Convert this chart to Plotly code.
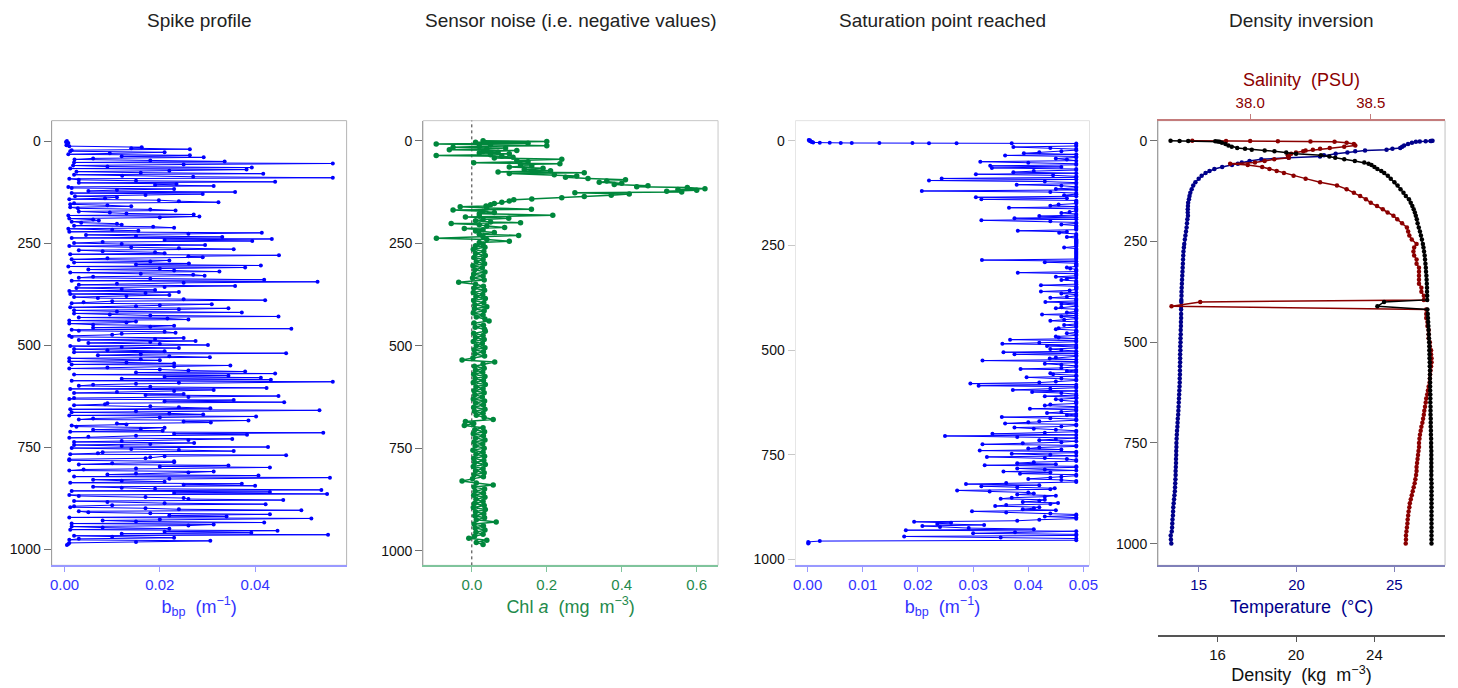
import plotly.graph_objects as go

# ---------------- Panel 1: spike profile (bbp) ----------------
depth_spike = [
    0, 5, 10, 15, 20, 25, 30, 35, 40, 45,
    50, 55, 60, 65, 70, 75, 80, 85, 90, 95,
    100, 105, 110, 115, 120, 125, 130, 135, 140, 145,
    150, 155, 160, 165, 170, 175, 180, 185, 190, 195,
    200, 205, 210, 215, 220, 225, 230, 235, 240, 245,
    250, 255, 260, 265, 270, 275, 280, 285, 290, 295,
    300, 305, 310, 315, 320, 325, 330, 335, 340, 345,
    350, 355, 360, 365, 370, 375, 380, 385, 390, 395,
    400, 405, 410, 415, 420, 425, 430, 435, 440, 445,
    450, 455, 460, 465, 470, 475, 480, 485, 490, 495,
    500, 505, 510, 515, 520, 525, 530, 535, 540, 545,
    550, 555, 560, 565, 570, 575, 580, 585, 590, 595,
    600, 605, 610, 615, 620, 625, 630, 635, 640, 645,
    650, 655, 660, 665, 670, 675, 680, 685, 690, 695,
    700, 705, 710, 715, 720, 725, 730, 735, 740, 745,
    750, 755, 760, 765, 770, 775, 780, 785, 790, 795,
    800, 805, 810, 815, 820, 825, 830, 835, 840, 845,
    850, 855, 860, 865, 870, 875, 880, 885, 890, 895,
    900, 905, 910, 915, 920, 925, 930, 935, 940, 945,
    950, 955, 960, 965, 970, 975, 980, 985, 990]
bbp_spike = [
    0.0005, 0.0008, 0.0004, 0.0162, 0.0263, 0.0012, 0.0095, 0.0263, 0.0292, 0.0021,
    0.0336, 0.0563, 0.0018, 0.0393, 0.0382, 0.0025, 0.0417, 0.0121, 0.0563, 0.0030,
    0.0442, 0.0235, 0.0313, 0.0015, 0.0110, 0.0358, 0.0290, 0.0022, 0.0085, 0.0198,
    0.0323, 0.0012, 0.0140, 0.0028, 0.0233, 0.0095, 0.0271, 0.0283, 0.0010, 0.0072,
    0.0035, 0.0120, 0.0186, 0.0008, 0.0155, 0.0414, 0.0045, 0.0331, 0.0435, 0.0394,
    0.0020, 0.0295, 0.0140, 0.0355, 0.0080, 0.0210, 0.0450, 0.0290, 0.0015, 0.0180,
    0.0261, 0.0412, 0.0379, 0.0050, 0.0325, 0.0160, 0.0294, 0.0030, 0.0419, 0.0531,
    0.0110, 0.0358, 0.0025, 0.0190, 0.0240, 0.0012, 0.0130, 0.0070, 0.0421, 0.0040,
    0.0309, 0.0150, 0.0344, 0.0020, 0.0372, 0.0095, 0.0449, 0.0216, 0.0010, 0.0130,
    0.0060, 0.0180, 0.0476, 0.0030, 0.0233, 0.0100, 0.0015, 0.0190, 0.0275, 0.0050,
    0.0301, 0.0120, 0.0020, 0.0210, 0.0465, 0.0070, 0.0305, 0.0160, 0.0010, 0.0230,
    0.0348, 0.0090, 0.0200, 0.0379, 0.0442, 0.0344, 0.0412, 0.0433, 0.0563, 0.0150,
    0.0030, 0.0424, 0.0313, 0.0110, 0.0250, 0.0449, 0.0020, 0.0355, 0.0461, 0.0085,
    0.0180, 0.0306, 0.0535, 0.0015, 0.0291, 0.0402, 0.0060, 0.0386, 0.0307, 0.0130,
    0.0025, 0.0160, 0.0206, 0.0543, 0.0383, 0.0050, 0.0352, 0.0120, 0.0272, 0.0020,
    0.0427, 0.0140, 0.0355, 0.0070, 0.0465, 0.0180, 0.0010, 0.0230, 0.0100, 0.0344,
    0.0431, 0.0040, 0.0313, 0.0150, 0.0407, 0.0557, 0.0060, 0.0210, 0.0372, 0.0400,
    0.0120, 0.0539, 0.0431, 0.0551, 0.0030, 0.0250, 0.0459, 0.0090, 0.0422, 0.0020,
    0.0170, 0.0497, 0.0050, 0.0431, 0.0340, 0.0518, 0.0080, 0.0419, 0.0313, 0.0015,
    0.0220, 0.0447, 0.0392, 0.0553, 0.0100, 0.0030, 0.0306, 0.0010, 0.0005]
# samples between the ones above
depth_spike_b = [
    2.5, 7.5, 12.5, 17.5, 22.5, 27.5, 32.5, 37.5, 42.5, 47.5,
    52.5, 57.5, 62.5, 67.5, 72.5, 77.5, 82.5, 87.5, 92.5, 97.5,
    102.5, 107.5, 112.5, 117.5, 122.5, 127.5, 132.5, 137.5, 142.5, 147.5,
    152.5, 157.5, 162.5, 167.5, 172.5, 177.5, 182.5, 187.5, 192.5, 197.5,
    202.5, 207.5, 212.5, 217.5, 222.5, 227.5, 232.5, 237.5, 242.5, 247.5,
    252.5, 257.5, 262.5, 267.5, 272.5, 277.5, 282.5, 287.5, 292.5, 297.5,
    302.5, 307.5, 312.5, 317.5, 322.5, 327.5, 332.5, 337.5, 342.5, 347.5,
    352.5, 357.5, 362.5, 367.5, 372.5, 377.5, 382.5, 387.5, 392.5, 397.5,
    402.5, 407.5, 412.5, 417.5, 422.5, 427.5, 432.5, 437.5, 442.5, 447.5,
    452.5, 457.5, 462.5, 467.5, 472.5, 477.5, 482.5, 487.5, 492.5, 497.5,
    502.5, 507.5, 512.5, 517.5, 522.5, 527.5, 532.5, 537.5, 542.5, 547.5,
    552.5, 557.5, 562.5, 567.5, 572.5, 577.5, 582.5, 587.5, 592.5, 597.5,
    602.5, 607.5, 612.5, 617.5, 622.5, 627.5, 632.5, 637.5, 642.5, 647.5,
    652.5, 657.5, 662.5, 667.5, 672.5, 677.5, 682.5, 687.5, 692.5, 697.5,
    702.5, 707.5, 712.5, 717.5, 722.5, 727.5, 732.5, 737.5, 742.5, 747.5,
    752.5, 757.5, 762.5, 767.5, 772.5, 777.5, 782.5, 787.5, 792.5, 797.5,
    802.5, 807.5, 812.5, 817.5, 822.5, 827.5, 832.5, 837.5, 842.5, 847.5,
    852.5, 857.5, 862.5, 867.5, 872.5, 877.5, 882.5, 887.5, 892.5, 897.5,
    902.5, 907.5, 912.5, 917.5, 922.5, 927.5, 932.5, 937.5, 942.5, 947.5,
    952.5, 957.5, 962.5, 967.5, 972.5, 977.5, 982.5, 987.5]
bbp_spike_b = [
    0.0003, 0.0006, 0.0010, 0.0140, 0.0015, 0.0210, 0.0008, 0.0120, 0.0060, 0.0180,
    0.0020, 0.0250, 0.0090, 0.0012, 0.0220, 0.0160, 0.0020, 0.0270, 0.0010, 0.0150,
    0.0030, 0.0190, 0.0008, 0.0230, 0.0050, 0.0015, 0.0170, 0.0110, 0.0010, 0.0240,
    0.0020, 0.0090, 0.0012, 0.0180, 0.0030, 0.0130, 0.0008, 0.0200, 0.0060, 0.0015,
    0.0110, 0.0020, 0.0230, 0.0100, 0.0010, 0.0260, 0.0150, 0.0015, 0.0210, 0.0080,
    0.0120, 0.0010, 0.0240, 0.0030, 0.0190, 0.0012, 0.0260, 0.0090, 0.0220, 0.0020,
    0.0150, 0.0008, 0.0200, 0.0230, 0.0012, 0.0270, 0.0060, 0.0180, 0.0015, 0.0250,
    0.0030, 0.0210, 0.0120, 0.0010, 0.0170, 0.0220, 0.0020, 0.0250, 0.0100, 0.0015,
    0.0200, 0.0012, 0.0240, 0.0110, 0.0020, 0.0180, 0.0030, 0.0260, 0.0150, 0.0010,
    0.0230, 0.0060, 0.0015, 0.0210, 0.0120, 0.0010, 0.0250, 0.0030, 0.0180, 0.0200,
    0.0012, 0.0240, 0.0090, 0.0020, 0.0160, 0.0220, 0.0010, 0.0200, 0.0130, 0.0015,
    0.0230, 0.0010, 0.0260, 0.0150, 0.0020, 0.0210, 0.0120, 0.0015, 0.0240, 0.0060,
    0.0180, 0.0012, 0.0230, 0.0020, 0.0170, 0.0260, 0.0010, 0.0210, 0.0090, 0.0020,
    0.0240, 0.0012, 0.0150, 0.0220, 0.0010, 0.0200, 0.0030, 0.0250, 0.0110, 0.0015,
    0.0210, 0.0060, 0.0012, 0.0230, 0.0150, 0.0010, 0.0260, 0.0020, 0.0180, 0.0120,
    0.0015, 0.0240, 0.0080, 0.0012, 0.0210, 0.0170, 0.0010, 0.0230, 0.0030, 0.0200,
    0.0150, 0.0010, 0.0260, 0.0090, 0.0020, 0.0220, 0.0120, 0.0012, 0.0250, 0.0060,
    0.0190, 0.0015, 0.0230, 0.0010, 0.0170, 0.0260, 0.0020, 0.0210, 0.0100, 0.0012,
    0.0240, 0.0030, 0.0180, 0.0220, 0.0010, 0.0200, 0.0150, 0.0015, 0.0260, 0.0080,
    0.0012, 0.0210, 0.0120, 0.0020, 0.0230, 0.0010, 0.0150, 0.0008]

# ---------------- Panel 2: chlorophyll a with sensor noise ----------------
depth_chl = [
    0, 2, 4, 6, 8, 10, 12, 14, 16, 18, 20, 22, 24, 26, 28, 30, 32, 34, 36, 38,
    40, 42, 45, 48, 51, 54, 56, 58, 61, 64, 67, 70, 73, 76, 78, 80, 83, 86, 89, 92,
    95, 98, 101, 104, 107, 110, 112, 114, 117, 119, 121, 123, 125, 127, 130, 133, 136, 139, 142, 144,
    147, 150, 153, 156, 159, 161, 164, 167, 169, 172, 175, 178, 182, 184, 186, 189, 192, 195, 198, 200,
    202, 205, 208, 212, 214, 217, 220, 224, 228, 231, 234, 238, 241, 245, 248, 252, 256, 260,
    265, 270, 275, 280, 285, 290, 295, 300, 305, 310,
    315, 320, 325, 330, 335, 340, 345, 350, 355, 360,
    365, 370, 375, 380, 385, 390, 395, 400, 405, 410,
    415, 420, 425, 430, 435, 440, 445, 450, 455, 460,
    465, 470, 475, 480, 485, 490, 495, 500, 505, 510,
    515, 520, 525, 530, 535, 540, 545, 550, 555, 560,
    565, 570, 575, 580, 585, 590, 595, 600, 605, 610,
    615, 620, 625, 630, 635, 640, 645, 650, 655, 660,
    665, 670, 675, 680, 685, 690, 695, 700, 705, 710,
    715, 720, 725, 730, 735, 740, 745, 750, 755, 760,
    765, 770, 775, 780, 785, 790, 795, 800, 805, 810,
    815, 820, 825, 830, 835, 840, 845, 850, 855, 860,
    865, 870, 875, 880, 885, 890, 895, 900, 905, 910,
    915, 920, 925, 930, 935, 940, 945, 950, 955, 960,
    965, 970, 975, 980, 985]
chl = [
    0.03, 0.20, 0.01, 0.15, -0.095, 0.05, 0.20, 0.02, -0.05, 0.09,
    0.04, -0.06, 0.12, 0.03, 0.07, 0.02, 0.10, 0.05, -0.095, 0.08,
    0.11, 0.06, 0.24, 0.12, 0.15, 0.005, 0.235, 0.13, 0.16, 0.10,
    0.19, 0.14, 0.21, 0.07, 0.30, 0.10, 0.22, 0.28, 0.25, 0.31,
    0.41, 0.36, 0.34, 0.40, 0.38, 0.47, 0.44, 0.575, 0.622, 0.55,
    0.60, 0.52, 0.56, 0.275, 0.42, 0.372, 0.30, 0.24, 0.16, 0.112,
    0.10, 0.08, 0.06, 0.05, 0.038, -0.031, 0.04, 0.159, -0.05, 0.03,
    0.06, 0.02, 0.216, 0.02, -0.017, 0.0985, 0.03, 0.01, 0.05, 0.13,
    -0.055, 0.02, 0.04, 0.0875, -0.02, 0.03, 0.01, 0.06, 0.02, 0.125,
    0.03, -0.0945, 0.04, 0.10, 0.02, 0.03, 0.01, 0.035,
    0.004, 0.032, 0.010, 0.036, 0.006, 0.030, 0.012, 0.034, 0.003, 0.028,
    0.008, 0.035, 0.005, 0.030, 0.002, 0.033, -0.035, 0.010, 0.031, 0.006,
    0.034, 0.004, 0.029, 0.011, 0.036, 0.005, 0.032, 0.008, 0.040, 0.007,
    0.033, 0.004, 0.030, 0.012, 0.035, 0.046, 0.006, 0.031, 0.009, 0.034,
    0.036, 0.005, 0.030, 0.010, 0.033, 0.004, 0.028, 0.012, 0.035, 0.006,
    0.031, 0.008, 0.034, 0.003, -0.026, 0.061, 0.030, 0.007, 0.033, 0.010,
    0.029, 0.005, 0.035, 0.009, 0.031, 0.004, 0.036, 0.011, 0.030, 0.006,
    0.033, 0.008, 0.028, 0.004, 0.034, 0.010, 0.031, 0.005, 0.035, 0.007,
    0.030, 0.012, 0.033, 0.057, -0.017, 0.005, -0.020, 0.030, 0.008, 0.034,
    0.004, 0.031, 0.010, 0.035, 0.006, 0.029, 0.009, 0.033, 0.003, 0.030,
    0.011, 0.034, 0.005, 0.032, 0.008, 0.036, 0.004, 0.030, 0.010, 0.033,
    0.006, 0.031, 0.002, -0.026, 0.012, 0.057, 0.006, 0.034, 0.009, 0.031,
    0.005, 0.035, 0.011, 0.030, 0.007, 0.033, 0.004, 0.036, 0.010, 0.032,
    0.008, 0.034, 0.012, 0.065, 0.006, 0.031, 0.009, 0.035, 0.011, 0.030,
    0.007, -0.008, 0.040, 0.012, 0.030]

# ---------------- Panel 3: saturated bbp ----------------
depth_sat = [
    -2, -1, 0, 1, 2, 3, 4, 4.5, 5, 5.2, 5.4, 5.5, 5.6, 5.8, 6, 6.2, 6.5,
    10, 15, 20, 25, 30, 35, 40, 45, 50, 55,
    60, 65, 70, 75, 80, 85, 90, 95, 100, 105,
    110, 115, 120, 125, 130, 135, 140, 145, 150, 155,
    160, 165, 170, 175, 180, 185, 190, 195, 200, 205,
    210, 215, 220, 225, 230, 235, 240, 245, 250, 255,
    260, 265, 270, 275, 280, 285, 290, 295, 300, 305,
    310, 315, 320, 325, 330, 335, 340, 345, 350, 355,
    360, 365, 370, 375, 380, 385, 390, 395, 400, 405,
    410, 415, 420, 425, 430, 435, 440, 445, 450, 455,
    460, 465, 470, 475, 480, 485, 490, 495, 500, 505,
    510, 515, 520, 525, 530, 535, 540, 545, 550, 555,
    560, 565, 570, 575, 580, 585, 590, 595, 600, 605,
    610, 615, 620, 625, 630, 635, 640, 645, 650, 655,
    660, 665, 670, 675, 680, 685, 690, 695, 700, 705,
    710, 715, 720, 725, 730, 735, 740, 745, 750, 755,
    760, 765, 770, 775, 780, 785, 790, 795, 800, 805,
    810, 815, 820, 825, 830, 835, 840, 845, 850, 855,
    860, 865, 870, 875, 880, 885, 890, 895, 900, 905,
    910, 915, 920, 925, 930, 935, 940, 945, 950,
    954, 956, 958, 960, 962]
bbp_sat = [
    0.0002, 0.0004, 0.0003, 0.0005, 0.0006, 0.0008, 0.0010, 0.0022, 0.0040, 0.0060,
    0.0080, 0.0130, 0.0190, 0.0220, 0.0270, 0.0370, 0.0487,
    0.0487, 0.0373, 0.0487, 0.0460, 0.0392, 0.0358, 0.0487, 0.0470, 0.0313, 0.0487,
    0.0331, 0.0334, 0.0487, 0.0373, 0.0305, 0.0487, 0.0243, 0.0220, 0.0487, 0.0379,
    0.0487, 0.0450, 0.0207, 0.0487, 0.0465, 0.0305, 0.0315, 0.0487, 0.0487, 0.0440,
    0.0365, 0.0487, 0.0475, 0.0487, 0.0420, 0.0375, 0.0315, 0.0487, 0.0460, 0.0487,
    0.0487, 0.0381, 0.0456, 0.0487, 0.0470, 0.0487, 0.0487, 0.0487, 0.0487, 0.0465,
    0.0487, 0.0487, 0.0487, 0.0487, 0.0487, 0.0316, 0.0430, 0.0487, 0.0487, 0.0476,
    0.0487, 0.0381, 0.0487, 0.0450, 0.0470, 0.0487, 0.0487, 0.0423, 0.0487, 0.0487,
    0.0423, 0.0460, 0.0487, 0.0440, 0.0487, 0.0431, 0.0460, 0.0487, 0.0450, 0.0487,
    0.0470, 0.0425, 0.0460, 0.0487, 0.0440, 0.0487, 0.0465, 0.0487, 0.0450, 0.0487,
    0.0470, 0.0487, 0.0455, 0.0367, 0.0487, 0.0353, 0.0434, 0.0487, 0.0460, 0.0355,
    0.0375, 0.0487, 0.0439, 0.0317, 0.0487, 0.0460, 0.0487, 0.0386, 0.0470, 0.0440,
    0.0487, 0.0397, 0.0487, 0.0450, 0.0295, 0.0310, 0.0487, 0.0372, 0.0407, 0.0487,
    0.0430, 0.0487, 0.0460, 0.0487, 0.0440, 0.0487, 0.0403, 0.0487, 0.0434, 0.0470,
    0.0352, 0.0487, 0.0420, 0.0358, 0.0487, 0.0375, 0.0450, 0.0487, 0.0335, 0.0249,
    0.0487, 0.0420, 0.0460, 0.0317, 0.0487, 0.0400, 0.0312, 0.0487, 0.0440, 0.0325,
    0.0470, 0.0487, 0.0380, 0.0321, 0.0487, 0.0430, 0.0355, 0.0385, 0.0487, 0.0440,
    0.0460, 0.0487, 0.0287, 0.0315, 0.0448, 0.0271, 0.0400, 0.0380, 0.0430, 0.0350,
    0.0420, 0.0454, 0.0360, 0.0420, 0.0390, 0.0298, 0.0440, 0.0487, 0.0487, 0.0420,
    0.0193, 0.0235, 0.0208, 0.0292, 0.0178, 0.0376, 0.0487, 0.0175, 0.0487,
    0.0487, 0.0022, 0.0001, 0.0002, 0.0001]
depth_sat_b = [
    12.5, 17.5, 22.5, 27.5, 32.5, 37.5, 42.5, 47.5, 52.5, 57.5,
    62.5, 67.5, 72.5, 77.5, 82.5, 87.5, 92.5, 97.5, 102.5, 107.5,
    112.5, 117.5, 122.5, 127.5, 132.5, 137.5, 142.5, 147.5, 152.5, 157.5,
    162.5, 167.5, 172.5, 177.5, 182.5, 187.5, 192.5, 197.5, 202.5, 207.5,
    212.5, 217.5, 222.5, 227.5, 232.5, 237.5, 242.5, 247.5, 252.5, 257.5,
    262.5, 267.5, 272.5, 277.5, 282.5, 287.5, 292.5, 297.5, 302.5, 307.5,
    312.5, 317.5, 322.5, 327.5, 332.5, 337.5, 342.5, 347.5, 352.5, 357.5,
    362.5, 367.5, 372.5, 377.5, 382.5, 387.5, 392.5, 397.5, 402.5, 407.5,
    412.5, 417.5, 422.5, 427.5, 432.5, 437.5, 442.5, 447.5, 452.5, 457.5,
    462.5, 467.5, 472.5, 477.5, 482.5, 487.5, 492.5, 497.5, 502.5, 507.5,
    512.5, 517.5, 522.5, 527.5, 532.5, 537.5, 542.5, 547.5, 552.5, 557.5,
    562.5, 567.5, 572.5, 577.5, 582.5, 587.5, 592.5, 597.5, 602.5, 607.5,
    612.5, 617.5, 622.5, 627.5, 632.5, 637.5, 642.5, 647.5, 652.5, 657.5,
    662.5, 667.5, 672.5, 677.5, 682.5, 687.5, 692.5, 697.5, 702.5, 707.5,
    712.5, 717.5, 722.5, 727.5, 732.5, 737.5, 742.5, 747.5, 752.5, 757.5,
    762.5, 767.5, 772.5, 777.5, 782.5, 787.5, 792.5, 797.5, 802.5, 807.5,
    812.5, 817.5, 822.5, 827.5, 832.5, 837.5, 842.5, 847.5, 852.5, 857.5,
    862.5, 867.5, 872.5, 877.5, 882.5, 887.5, 892.5, 897.5, 902.5, 907.5,
    912.5, 917.5, 922.5, 927.5, 932.5, 937.5, 942.5, 947.5]
bbp_sat_b = [
    0.0487, 0.0440, 0.0487, 0.0420, 0.0487, 0.0487, 0.0450, 0.0487, 0.0400, 0.0487,
    0.0460, 0.0487, 0.0410, 0.0487, 0.0445, 0.0487, 0.0487, 0.0430, 0.0487, 0.0460,
    0.0487, 0.0487, 0.0440, 0.0487, 0.0487, 0.0470, 0.0487, 0.0487, 0.0455, 0.0487,
    0.0487, 0.0487, 0.0460, 0.0487, 0.0487, 0.0487, 0.0440, 0.0487, 0.0487, 0.0487,
    0.0487, 0.0470, 0.0487, 0.0487, 0.0487, 0.0487, 0.0487, 0.0487, 0.0487, 0.0487,
    0.0487, 0.0487, 0.0487, 0.0487, 0.0487, 0.0487, 0.0487, 0.0487, 0.0470, 0.0487,
    0.0487, 0.0487, 0.0487, 0.0487, 0.0460, 0.0487, 0.0487, 0.0487, 0.0487, 0.0475,
    0.0487, 0.0487, 0.0470, 0.0487, 0.0487, 0.0487, 0.0487, 0.0460, 0.0487, 0.0487,
    0.0487, 0.0487, 0.0487, 0.0465, 0.0487, 0.0487, 0.0487, 0.0455, 0.0487, 0.0487,
    0.0487, 0.0450, 0.0487, 0.0487, 0.0420, 0.0487, 0.0487, 0.0440, 0.0487, 0.0487,
    0.0487, 0.0450, 0.0487, 0.0487, 0.0430, 0.0487, 0.0460, 0.0487, 0.0487, 0.0445,
    0.0487, 0.0460, 0.0487, 0.0420, 0.0487, 0.0487, 0.0440, 0.0487, 0.0460, 0.0487,
    0.0487, 0.0450, 0.0487, 0.0487, 0.0430, 0.0487, 0.0487, 0.0460, 0.0487, 0.0487,
    0.0440, 0.0487, 0.0400, 0.0487, 0.0460, 0.0410, 0.0487, 0.0430, 0.0487, 0.0380,
    0.0450, 0.0487, 0.0390, 0.0487, 0.0420, 0.0460, 0.0487, 0.0370, 0.0487, 0.0430,
    0.0487, 0.0410, 0.0450, 0.0487, 0.0380, 0.0487, 0.0440, 0.0487, 0.0460, 0.0400,
    0.0487, 0.0360, 0.0420, 0.0380, 0.0440, 0.0330, 0.0410, 0.0450, 0.0370, 0.0430,
    0.0390, 0.0440, 0.0340, 0.0410, 0.0450, 0.0360, 0.0487, 0.0430, 0.0487, 0.0380,
    0.0260, 0.0320, 0.0240, 0.0410, 0.0487, 0.0300, 0.0487, 0.0350]

# ---------------- Panel 4: density inversion (T, S, density) ----------------
depth_ctd = [
    0, 0.3, 0.6, 1, 1.5, 2.5, 5, 8, 12, 15,
    18, 20, 22, 24, 26, 29, 32, 36, 39, 42,
    46, 50, 54, 57, 60, 65, 70, 75, 80, 87,
    94, 103, 111, 120, 129, 137, 145, 154, 162, 170,
    178, 186, 195, 205, 215, 225, 235, 245, 256, 265,
    275, 285, 295, 305, 315, 325, 335, 345, 355, 365,
    375, 385, 395, 400, 411, 419,
    430, 440, 450, 460, 470, 480, 490, 500, 510, 520,
    530, 540, 550, 560, 570, 580, 590, 600, 610, 620,
    630, 640, 650, 660, 670, 680, 690, 700, 710, 720,
    730, 740, 750, 760, 770, 780, 790, 800, 810, 820,
    830, 840, 850, 860, 870, 880, 890, 900, 910, 920,
    930, 940, 950, 960, 970, 980, 990, 1000]
temperature = [
    26.95, 26.90, 26.85, 26.60, 26.30, 26.10, 25.90, 25.70, 25.50, 25.40,
    25.30, 24.90, 24.60, 23.50, 23.00, 22.60, 22.00, 21.40, 21.20, 19.60,
    18.20, 17.60, 17.20, 17.00, 16.70, 16.20, 15.80, 15.55, 15.35, 15.15,
    15.00, 14.83, 14.72, 14.64, 14.57, 14.53, 14.50, 14.46, 14.45, 14.44,
    14.44, 14.45, 14.42, 14.40, 14.38, 14.35, 14.32, 14.29, 14.26, 14.24,
    14.22, 14.21, 14.20, 14.19, 14.18, 14.17, 14.16, 14.15, 14.14, 14.13,
    14.12, 14.12, 14.11, 14.11, 14.10, 14.10,
    14.10, 14.10, 14.09, 14.09, 14.08, 14.08, 14.07, 14.07, 14.06, 14.06,
    14.05, 14.05, 14.05, 14.04, 14.04, 14.04, 14.03, 14.03, 14.02, 14.01,
    14.00, 13.99, 13.98, 13.97, 13.96, 13.95, 13.93, 13.92, 13.91, 13.89,
    13.88, 13.87, 13.86, 13.86, 13.85, 13.85, 13.84, 13.84, 13.83, 13.82,
    13.82, 13.81, 13.80, 13.79, 13.78, 13.76, 13.74, 13.72, 13.70, 13.69,
    13.68, 13.66, 13.65, 13.64, 13.62, 13.57, 13.58, 13.60]
salinity = [
    37.76, 37.90, 38.00, 38.115, 38.25, 38.35, 38.40, 38.43, 38.436, 38.39,
    38.33, 38.29, 38.26, 38.23, 38.22, 38.19, 38.17, 38.156, 38.16, 38.16,
    38.10, 38.06, 38.02, 37.917, 37.99, 38.05, 38.08, 38.11, 38.14, 38.18,
    38.23, 38.29, 38.36, 38.40, 38.43, 38.456, 38.48, 38.50, 38.526, 38.55,
    38.57, 38.594, 38.61, 38.63, 38.65, 38.655, 38.66, 38.67, 38.69, 38.68,
    38.677, 38.68, 38.69, 38.69, 38.70, 38.70, 38.70, 38.70, 38.70, 38.71,
    38.71, 38.72, 38.72, 37.793, 37.674, 38.73,
    38.73, 38.73, 38.735, 38.735, 38.74, 38.74, 38.74, 38.745, 38.745, 38.75,
    38.75, 38.752, 38.752, 38.75, 38.748, 38.746, 38.745, 38.744, 38.74, 38.737,
    38.734, 38.73, 38.728, 38.725, 38.722, 38.72, 38.717, 38.714, 38.71, 38.707,
    38.704, 38.702, 38.70, 38.70, 38.698, 38.696, 38.694, 38.692, 38.69, 38.69,
    38.688, 38.685, 38.682, 38.678, 38.674, 38.67, 38.666, 38.662, 38.66, 38.657,
    38.655, 38.653, 38.652, 38.65, 38.648, 38.646, 38.646, 38.645]
density = [
    13.60, 14.06, 14.50, 15.88, 16.00, 16.10, 16.22, 16.40, 16.55, 16.72,
    17.00, 17.40, 17.74, 18.40, 18.90, 19.50, 20.00, 21.27, 21.70, 22.00,
    22.46, 23.00, 23.48, 23.70, 23.85, 24.00, 24.15, 24.35, 24.50, 24.68,
    24.83, 25.02, 25.18, 25.33, 25.48, 25.60, 25.76, 25.85, 25.93, 26.00,
    26.06, 26.11, 26.16, 26.20, 26.26, 26.32, 26.37, 26.42, 26.47, 26.50,
    26.53, 26.56, 26.58, 26.60, 26.62, 26.63, 26.65, 26.66, 26.67, 26.68,
    26.68, 26.69, 26.69, 24.49, 24.15, 26.70,
    26.72, 26.73, 26.74, 26.75, 26.76, 26.77, 26.78, 26.79, 26.80, 26.80,
    26.81, 26.81, 26.82, 26.82, 26.83, 26.83, 26.83, 26.84, 26.84, 26.84,
    26.85, 26.85, 26.85, 26.86, 26.86, 26.86, 26.87, 26.87, 26.87, 26.88,
    26.88, 26.89, 26.89, 26.89, 26.90, 26.90, 26.90, 26.90, 26.90, 26.90,
    26.90, 26.90, 26.91, 26.91, 26.91, 26.91, 26.91, 26.91, 26.91, 26.91,
    26.91, 26.91, 26.91, 26.91, 26.91, 26.91, 26.91, 26.91]

panel_titles = ["Spike profile", "Sensor noise (i.e. negative values)",
                "Saturation point reached", "Density inversion"]
depth_ticks = [0, 250, 500, 750, 1000]


def merge(d1, v1, d2, v2):
    pairs = sorted(zip(d1 + d2, v1 + v2), key=lambda p: p[0])
    return [p[0] for p in pairs], [p[1] for p in pairs]


d_spike, v_spike = merge(depth_spike, bbp_spike, depth_spike_b, bbp_spike_b)
d_sat, v_sat = merge(depth_sat, bbp_sat, depth_sat_b, bbp_sat_b)

FONT = "Liberation Sans, Arial, sans-serif"
BLUE = "#0000ff"
GREEN = "#00873c"
NAVY = "#00008b"
DARKRED = "#8b0000"

W, H = 1458, 688


def px_x(a, b):
    return [a / W, b / W]


YDOM = [1 - 567 / H, 1 - 121 / H]

fig = go.Figure()


def prof(x, y, color, xa, ya, lw=1, ms=4):
    fig.add_trace(go.Scatter(
        x=x, y=y, mode="lines+markers", xaxis=xa, yaxis=ya,
        line=dict(color=color, width=lw), marker=dict(color=color, size=ms),
        showlegend=False, hoverinfo="skip"))


prof(v_spike, d_spike, BLUE, "x", "y")
prof(chl, depth_chl, GREEN, "x2", "y2", lw=1.5, ms=5.5)
prof(v_sat, d_sat, BLUE, "x3", "y3")
prof(temperature, depth_ctd, NAVY, "x4", "y4", lw=1.5, ms=4.5)
prof(salinity, depth_ctd, DARKRED, "x5", "y4", lw=1.5, ms=4.5)
prof(density, depth_ctd, "#000000", "x6", "y4", lw=1.5, ms=4.5)


def yaxis_cfg(rng, linecolor="#a0a0a0", tickcolor="#707070"):
    return dict(domain=YDOM, range=rng, tickvals=depth_ticks,
                ticks="outside", ticklen=7, tickcolor=tickcolor, tickwidth=1,
                showline=True, linecolor=linecolor, linewidth=1,
                showgrid=False, zeroline=False,
                tickfont=dict(family=FONT, size=14, color="#111111"))


def xaxis_cfg(dom, rng, anchor, color, linecolor, tickvals, ticktext, title, standoff=8):
    return dict(domain=dom, range=rng, anchor=anchor,
                tickvals=tickvals, ticktext=ticktext,
                ticks="outside", ticklen=5, tickcolor=linecolor, tickwidth=1,
                showline=True, linecolor=linecolor, linewidth=1.5,
                showgrid=False, zeroline=False,
                tickfont=dict(family=FONT, size=15, color=color),
                title=dict(text=title, font=dict(family=FONT, size=18, color=color),
                           standoff=standoff))


layout = dict(
    width=W, height=H, margin=dict(l=0, r=0, t=0, b=0),
    paper_bgcolor="white", plot_bgcolor="white",
    font=dict(family=FONT),
    xaxis=xaxis_cfg(px_x(50, 347), [-0.0027, 0.0592], "y", "#3333ff", "#9999ff",
                    [0, 0.02, 0.04], ["0.00", "0.02", "0.04"],
                    "b<sub>bp</sub>  (m<sup>−1</sup>)"),
    yaxis=yaxis_cfg([1040, -50]),
    xaxis2=xaxis_cfg(px_x(424, 721), [-0.13, 0.657], "y2", "#1f8a4c", "#7fc49c",
                     [0, 0.2, 0.4, 0.6], ["0.0", "0.2", "0.4", "0.6"],
                     "Chl <i>a</i>  (mg  m<sup>−3</sup>)"),
    yaxis2=dict(yaxis_cfg([1036, -49]), anchor="x2"),
    xaxis3=xaxis_cfg(px_x(799, 1095), [-0.0022, 0.0511], "y3", "#3333ff", "#9999ff",
                     [0, 0.01, 0.02, 0.03, 0.04, 0.05],
                     ["0.00", "0.01", "0.02", "0.03", "0.04", "0.05"],
                     "b<sub>bp</sub>  (m<sup>−1</sup>)"),
    yaxis3=dict(yaxis_cfg([1014, -48], linecolor="#e6e6e6", tickcolor="#c8c8c8"), anchor="x3"),
    xaxis4=xaxis_cfg(px_x(1164, 1453), [12.92, 27.59], "y4", NAVY, "#8080b8",
                     [15, 20, 25], ["15", "20", "25"], "Temperature  (°C)"),
    yaxis4=dict(yaxis_cfg([1054, -50]), anchor="x4"),
    xaxis5=dict(xaxis_cfg(px_x(1164, 1453), [37.618, 38.808], "y4", DARKRED, "#c47c7c",
                          [38.0, 38.5], ["38.0", "38.5"], "Salinity  (PSU)", standoff=3),
                overlaying="x4", side="top"),
    xaxis6=dict(xaxis_cfg(px_x(1164, 1453), [12.96, 27.6], "free", "#111111", "#555555",
                          [16, 20, 24], ["16", "20", "24"],
                          "Density  (kg  m<sup>−3</sup>)", standoff=4),
                overlaying="x4", position=1 - 638 / H),
)
fig.update_layout(**layout)

shapes = []
for xr, yr, col in [("x", "y", "#b4b4b4"), ("x2", "y2", "#c8c8c8"),
                    ("x3", "y3", "#e2e2e2"), ("x4", "y4", "#c0c0c0")]:
    shapes.append(dict(type="rect", xref=xr + " domain", yref=yr + " domain",
                       x0=0, x1=1, y0=0, y1=1, line=dict(color=col, width=1),
                       layer="below"))
shapes.append(dict(type="line", xref="x2", yref="y2 domain", x0=0, x1=0, y0=0, y1=1,
                   line=dict(color="#333333", width=1, dash="dot"), layer="below"))
fig.update_layout(shapes=shapes)

centers = [(50 + 347) / 2, (424 + 721) / 2, (799 + 1095) / 2, (1164 + 1453) / 2]
for c, t in zip(centers, panel_titles):
    fig.add_annotation(text=t, x=c / W, y=1 - 21 / H, xref="paper", yref="paper",
                       showarrow=False, xanchor="center", yanchor="middle",
                       font=dict(family=FONT, size=19, color="#222222"))

fig.write_html("out.html",
               config={"displayModeBar": False},
               post_script="document.body.style.margin='0px';"
                           "document.body.style.overflow='hidden';")
